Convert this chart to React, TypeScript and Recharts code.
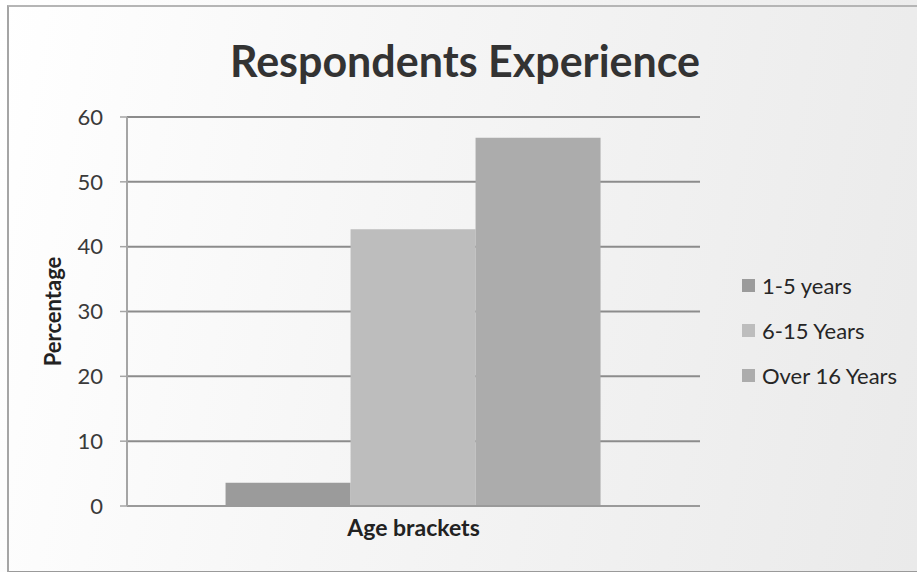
import { Bar, BarChart, CartesianGrid, Legend, XAxis, YAxis } from "recharts";

const categories = ["Age brackets"];
const seriesNames = ["1-5 years", "6-15 Years", "Over 16 Years"];
const series1to5 = [3.6];
const series6to15 = [42.7];
const seriesOver16 = [56.8];
const seriesColors = ["#9b9b9b", "#bdbdbd", "#acacac"];
const yTicks = [0, 10, 20, 30, 40, 50, 60];

const seriesValues = [series1to5, series6to15, seriesOver16];
const chartData = categories.map((name, i) => {
  const row: Record<string, string | number> = { name };
  seriesNames.forEach((s, j) => {
    row[s] = seriesValues[j][i];
  });
  return row;
});

const FONT = "Lato, 'Open Sans', sans-serif";

function renderLegend(props: any) {
  const payload = (props.payload || []) as { value: string; color: string }[];
  return (
    <div style={{ fontFamily: FONT }}>
      {payload.map((p) => (
        <div
          key={p.value}
          style={{ height: 45, display: "flex", alignItems: "center", fontSize: 22, color: "#262626" }}
        >
          <span
            style={{ width: 13, height: 13, background: p.color, display: "inline-block", marginRight: 7 }}
          />
          {p.value}
        </div>
      ))}
    </div>
  );
}

export default function App() {
  return (
    <div
      style={{
        position: "fixed",
        left: 0,
        top: 0,
        width: 917,
        height: 572,
        background: "linear-gradient(100deg, #ffffff 0%, #f6f6f6 40%, #eaeaea 100%)",
        fontFamily: FONT,
      }}
    >
      <div
        style={{
          position: "absolute",
          left: 7,
          top: 5,
          width: 920,
          height: 564,
          borderLeft: "2px solid #a5a5a5",
          borderTop: "2px solid #b5b5b5",
          borderBottom: "2px solid #9a9a9a",
        }}
      />
      <div
        style={{
          position: "absolute",
          left: 0,
          width: 930,
          top: 35,
          textAlign: "center",
          fontSize: 43,
          fontWeight: 700,
          color: "#333",
        }}
      >
        Respondents Experience
      </div>
      <div style={{ position: "absolute", left: 0, top: 0 }}>
        <BarChart
          width={917}
          height={572}
          data={chartData}
          margin={{ top: 117, right: 217, bottom: 36, left: 0 }}
          barCategoryGap="17.2%"
          barGap={0}
        >
          <CartesianGrid vertical={false} stroke="#8c8c8c" strokeWidth={2} />
          <XAxis
            dataKey="name"
            height={30}
            tickLine={false}
            axisLine={{ stroke: "#9a9a9a", strokeWidth: 2 }}
            tickMargin={8}
            tick={{ fontSize: 23, fontWeight: 700, fill: "#222", fontFamily: FONT }}
          />
          <YAxis
            width={127}
            domain={[0, 60]}
            ticks={yTicks}
            interval={0}
            tickSize={7}
            tickMargin={17}
            axisLine={{ stroke: "#a5a5a5", strokeWidth: 2 }}
            tickLine={{ stroke: "#a5a5a5", strokeWidth: 1.5 }}
            tick={{ fontSize: 22, fill: "#3a3a3a", fontFamily: FONT }}
            label={{
              value: "Percentage",
              angle: -90,
              position: "insideLeft",
              offset: 53,
              style: { textAnchor: "middle", fontSize: 22, fontWeight: 700, fill: "#222", fontFamily: FONT },
            }}
          />
          <Legend
            layout="vertical"
            align="center"
            verticalAlign="middle"
            wrapperStyle={{ left: 742, top: 263, width: 175 }}
            content={renderLegend}
          />
          {seriesNames.map((s, j) => (
            <Bar key={s} dataKey={s} fill={seriesColors[j]} isAnimationActive={false} />
          ))}
        </BarChart>
      </div>
    </div>
  );
}
